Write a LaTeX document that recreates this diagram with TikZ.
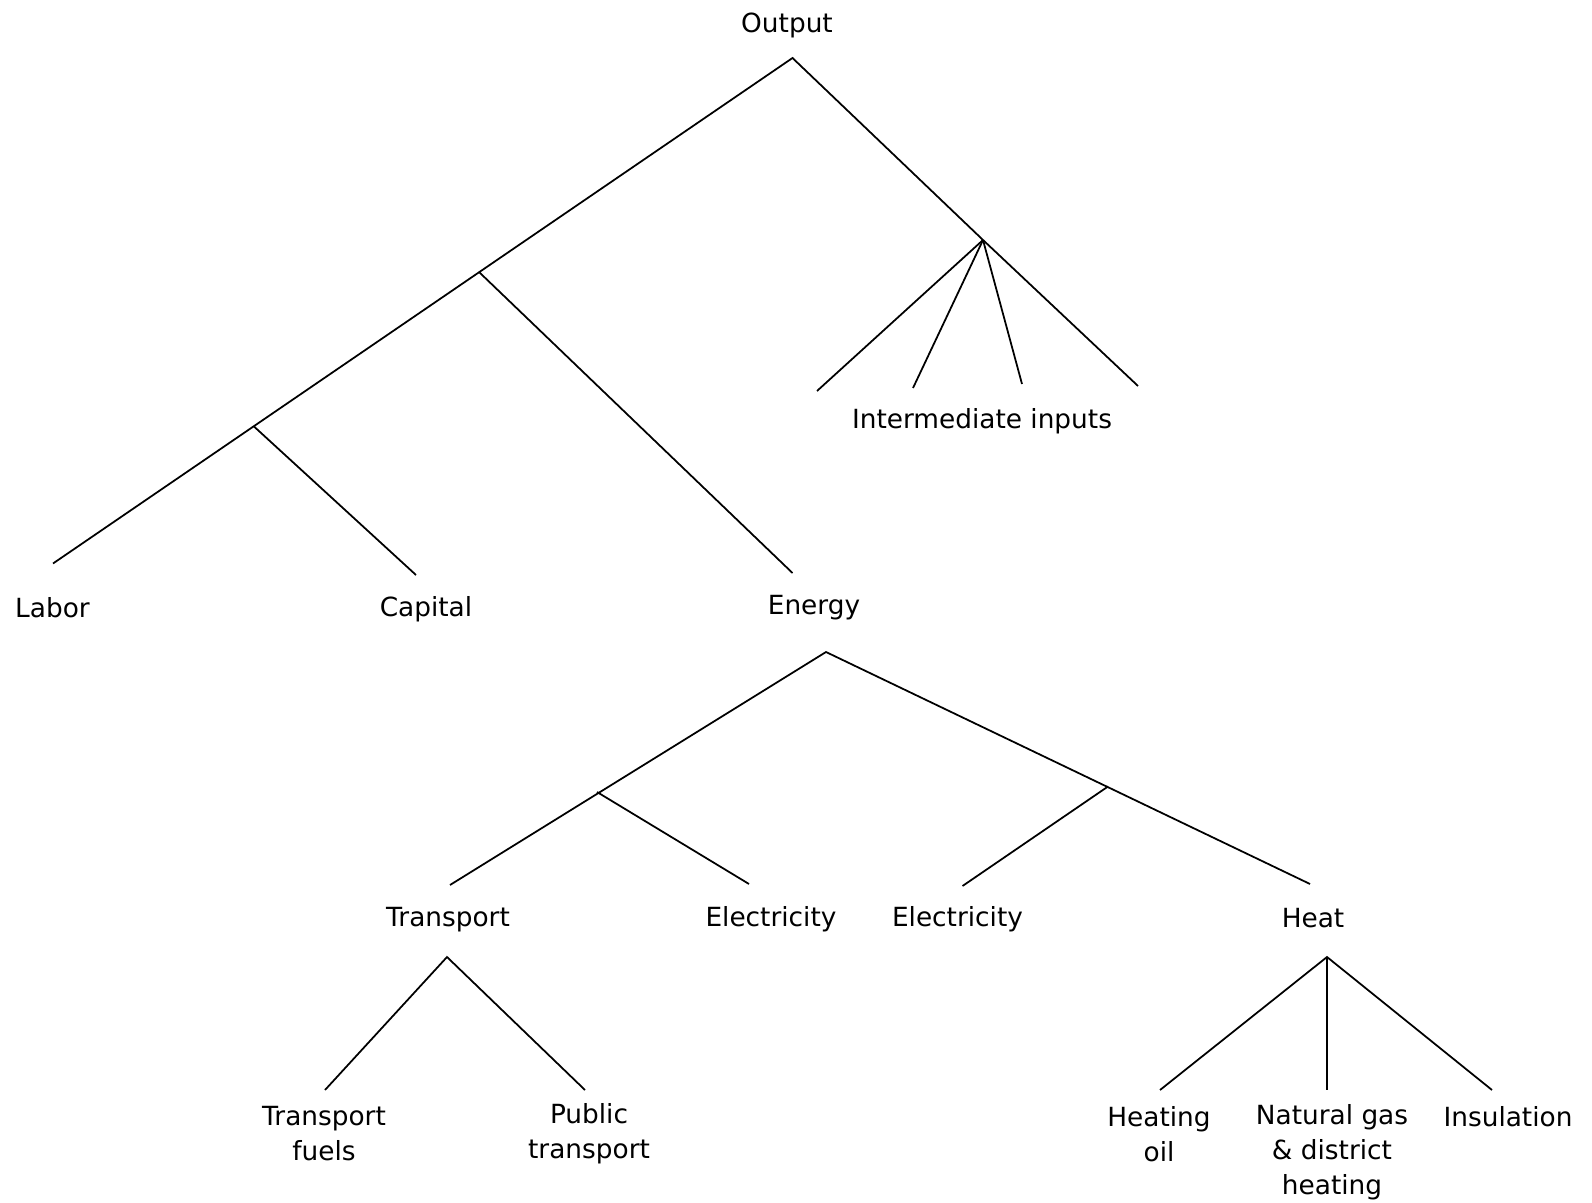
\documentclass[tikz,border=0pt]{standalone}
\usepackage{fontspec}
\setmainfont{DejaVu Sans}
\begin{document}
\begin{tikzpicture}[x=0.1mm,y=-0.1mm,
    lbl/.style={font=\fontsize{7.5}{10}\selectfont,align=center,inner sep=0pt},
    branch/.style={line width=0.5pt}]
  \useasboundingbox (0,0) rectangle (1592,1203);
  % labels
  \node[lbl] (output) at (787,25.5) {Output};
  \node[lbl] (inputs) at (982,421.5) {Intermediate inputs};
  \node[lbl] (labor) at (52.5,608) {Labor};
  \node[lbl] (capital) at (426,609) {Capital};
  \node[lbl] (energy) at (814,607.5) {Energy};
  \node[lbl] (transport) at (448,920) {Transport};
  \node[lbl] (elecA) at (771,919) {Electricity};
  \node[lbl] (elecB) at (957.5,919) {Electricity};
  \node[lbl] (heat) at (1313,918) {Heat};
  \node[lbl] (fuels) at (324,1133.5) {Transport\\fuels};
  \node[lbl] (public) at (589,1133.5) {Public\\transport};
  \node[lbl] (oil) at (1159,1134.5) {Heating\\oil};
  \node[lbl] (gas) at (1332,1152) {Natural gas\\\& district\\heating};
  \node[lbl] (insul) at (1508,1117) {Insulation};
  % top level
  \coordinate (top) at (792.5,58);
  \coordinate (mid) at (983,240);
  \coordinate (kle) at (479,272);
  \coordinate (kl) at (254,426.5);
  \coordinate (laborend) at (53,563.5);
  \coordinate (capitalend) at (416,575);
  \coordinate (energyend) at (792.5,573);
  \draw[branch] (laborend) -- (top) -- (mid);
  \draw[branch] (kle) -- (energyend);
  \draw[branch] (kl) -- (capitalend);
  \foreach \x/\y [count=\i] in {817/391,913/388,1022/384,1138/386} {
    \coordinate (inp\i) at (\x,\y);
    \draw[branch] (mid) -- (inp\i);
  }
  % energy nest
  \coordinate (etop) at (826,652);
  \coordinate (ejA) at (597,792);
  \coordinate (ejB) at (1108,786.5);
  \coordinate (transend) at (450,885);
  \coordinate (elecAend) at (749,884);
  \coordinate (elecBend) at (962.5,886);
  \coordinate (heatend) at (1310,884);
  \draw[branch] (transend) -- (etop) -- (heatend);
  \draw[branch] (ejA) -- (elecAend);
  \draw[branch] (ejB) -- (elecBend);
  % transport nest
  \coordinate (ttop) at (447,957);
  \coordinate (fuelsend) at (325,1090);
  \coordinate (publicend) at (585,1090);
  \draw[branch] (fuelsend) -- (ttop) -- (publicend);
  % heat nest
  \coordinate (htop) at (1327,957);
  \coordinate (oilend) at (1160,1090);
  \coordinate (gasend) at (1327,1090);
  \coordinate (insend) at (1492,1090);
  \draw[branch] (oilend) -- (htop) -- (insend);
  \draw[branch] (htop) -- (gasend);
\end{tikzpicture}
\end{document}
